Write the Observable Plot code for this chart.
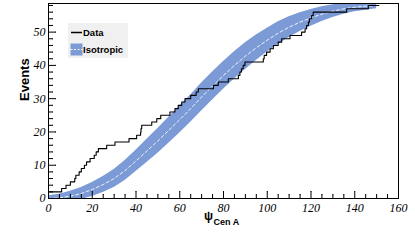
<!DOCTYPE html>
<html><head><meta charset="utf-8">
<script src="https://cdn.jsdelivr.net/npm/d3@7"></script>
<script src="https://cdn.jsdelivr.net/npm/@observablehq/plot@0.6"></script>
<style>
html,body{margin:0;padding:0;background:#fff;}
#chart{width:415px;height:245px;}
</style></head><body><div id="chart"></div>
<script>
// Observed data: cumulative number of events vs angular distance from Cen A (step positions)
const dataPsi   = [0, 6, 8, 10, 12, 12.5, 14, 15, 16.4, 17.4, 19, 20.9, 21.8, 22.8, 26.6, 30.4, 36.8, 40.3, 42.1, 42.3, 42.6, 47.2, 49.5, 51.3, 55.5, 57.8, 59.3, 60.9, 62.4, 65, 67.5, 68.5, 75.4, 77.6, 82.2, 86.8, 87.5, 88.2, 89, 89.8, 98.2, 98.6, 99.7, 101.3, 102.8, 105, 106.6, 110.4, 115.7, 117.3, 118, 118.8, 119.3, 120.3, 121, 136.3, 146.2, 151];
const dataCount = [2, 3, 4, 5, 6, 7, 8, 9, 10, 11, 12, 13, 14, 15, 16, 17, 18, 19, 20, 21, 22, 23, 24, 25, 26, 27, 28, 29, 30, 31, 32, 33, 34, 35, 36, 37, 38, 39, 40, 41, 42, 43, 44, 45, 46, 47, 48, 49, 50, 51, 52, 53, 54, 55, 56, 57, 58, 58];

// Isotropic expectation: mean and half-width of band
const isoPsi       = [0, 5, 10, 15, 20, 25, 30, 35, 40, 45, 50, 55, 60, 65, 70, 75, 80, 85, 90, 95, 100, 105, 110, 115, 120, 125, 130, 135, 140, 145, 150];
const isoMean      = [0, 0.2, 0.7, 1.5, 2.7, 4.2, 6.0, 8.4, 11.3, 14.3, 17.3, 20.5, 23.7, 27.0, 30.5, 33.8, 37.0, 40.0, 42.8, 45.3, 47.6, 49.7, 51.5, 53.0, 54.3, 55.4, 56.3, 57.0, 57.5, 57.8, 58.0];
const isoHalfWidth = [0.8, 1.1, 1.5, 1.8, 2.1, 2.4, 2.7, 3.0, 3.2, 3.5, 3.7, 3.9, 4.0, 4.1, 4.2, 4.2, 4.2, 4.1, 4.0, 3.8, 3.6, 3.4, 3.1, 2.8, 2.5, 2.2, 1.9, 1.6, 1.4, 1.2, 1.0];

const xMajorTicks = [0, 20, 40, 60, 80, 100, 120, 140, 160];
const xMinorTicks = [5, 10, 15, 25, 30, 35, 45, 50, 55, 65, 70, 75, 85, 90, 95, 105, 110, 115, 125, 130, 135, 145, 150, 155];
const yMajorTicks = [0, 10, 20, 30, 40, 50];
const yMinorTicks = [2, 4, 6, 8, 12, 14, 16, 18, 22, 24, 26, 28, 32, 34, 36, 38, 42, 44, 46, 48, 52, 54, 56, 58];
const legendLabels = ["Data", "Isotropic"];
const yTitle = "Events";
const xTitleMain = "ψ";
const xTitleSub = "Cen A";

const data = dataPsi.map((p, i) => ({psi: p, count: dataCount[i]}));
const iso = isoPsi.map((p, i) => ({psi: p, mean: isoMean[i], lo: isoMean[i] - isoHalfWidth[i], hi: isoMean[i] + isoHalfWidth[i]}));

const serif = "'Liberation Serif','DejaVu Serif',serif";
const sans = "'Liberation Sans',Arial,sans-serif";
const bandColor = "#7c9bd6";

// inward tick marks drawn as plain vectors (r: 0 removes the arrow head)
const xTick = (ticks, len) => Plot.vector(ticks, {x: d => d, frameAnchor: "bottom", anchor: "start", length: len, rotate: 0, r: 0, stroke: "black", strokeWidth: 1});
const yTick = (ticks, len) => Plot.vector(ticks, {y: d => d, frameAnchor: "left", anchor: "start", length: len, rotate: 90, r: 0, stroke: "black", strokeWidth: 1});

const plot = Plot.plot({
  width: 415, height: 245,
  marginLeft: 48, marginRight: 17, marginTop: 3, marginBottom: 47,
  style: {fontFamily: sans, background: "white", color: "black"},
  x: {domain: [0, 160]},
  y: {domain: [0, 58.6]},
  marks: [
    Plot.areaY(iso, {x: "psi", y1: "lo", y2: "hi", fill: bandColor, clip: true}),
    Plot.line(iso, {x: "psi", y: "mean", stroke: "white", strokeDasharray: "3,2.5", strokeWidth: 1, strokeOpacity: 0.85, clip: true}),
    Plot.line(data, {x: "psi", y: "count", curve: "step-after", stroke: "#000", strokeWidth: 1.1, clip: true}),
    Plot.frame({stroke: "black", strokeWidth: 1}),
    xTick(xMajorTicks, 7),
    xTick(xMinorTicks, 4),
    yTick(yMajorTicks, 7),
    yTick(yMinorTicks, 4),
    Plot.axisX({ticks: xMajorTicks, tickSize: 0, tickPadding: 5, label: null, fontSize: 12, fontStyle: "italic", fontFamily: serif}),
    Plot.axisY({ticks: yMajorTicks, tickSize: 0, tickPadding: 3, label: null, fontSize: 12, fontStyle: "italic", fontFamily: serif}),
    Plot.text([yTitle], {frameAnchor: "left", rotate: -90, dx: -24, fontWeight: "bold", fontSize: 13}),
    Plot.text([xTitleMain], {frameAnchor: "bottom", dx: -15, dy: 21, fontWeight: "bold", fontSize: 12}),
    Plot.text([xTitleSub], {frameAnchor: "bottom", textAnchor: "start", dx: -10, dy: 26, fontWeight: "bold", fontSize: 9})
  ]
});
document.getElementById("chart").appendChild(plot);

// Legend box inside the frame
const svg = d3.select(plot);
const g = svg.append("g").attr("font-family", sans).attr("font-weight", "bold").attr("font-size", 9.5).attr("text-anchor", "start");
g.append("rect").attr("x", 68).attr("y", 23).attr("width", 60).attr("height", 35).attr("fill", "#f0f0f0");
g.append("line").attr("x1", 71).attr("x2", 82).attr("y1", 32.5).attr("y2", 32.5).attr("stroke", "black").attr("stroke-width", 1.5);
g.append("text").attr("x", 83).attr("y", 32.5).attr("dy", "0.35em").text(legendLabels[0]);
g.append("rect").attr("x", 70.5).attr("y", 43.5).attr("width", 12).attr("height", 12).attr("fill", bandColor);
g.append("line").attr("x1", 70.5).attr("x2", 82.5).attr("y1", 49.5).attr("y2", 49.5).attr("stroke", "white").attr("stroke-dasharray", "2,1.5").attr("stroke-width", 1);
g.append("text").attr("x", 83).attr("y", 49.5).attr("dy", "0.35em").text(legendLabels[1]);
</script></body></html>
